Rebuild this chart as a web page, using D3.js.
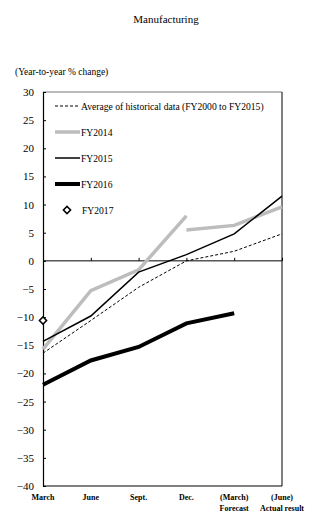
<!DOCTYPE html>
<html><head><meta charset="utf-8">
<script src="https://cdn.jsdelivr.net/npm/d3@7"></script>
<style>body{margin:0;background:#fff}svg text{font-family:"Liberation Serif","DejaVu Serif",serif !important}</style>
</head><body><svg id="c" width="327" height="530"></svg>
<script>
const categories = ["March","June","Sept.","Dec.","(March)","(June)"];
const categorySub = ["","","","","Forecast","Actual result"];
const yTicks = [30,25,20,15,10,5,0,-5,-10,-15,-20,-25,-30,-35,-40];
const avgHist = [-16.4,-10.6,-4.7,0.0,1.7,4.8];
const fy2014a = [-15.7,-5.3,-1.6,8.0,null,null];
const fy2014b = [null,null,null,5.5,6.3,9.6];
const fy2015 = [-14.3,-9.8,-2.0,1.1,4.8,11.5];
const fy2016 = [-22.0,-17.7,-15.3,-11.1,-9.3,null];
const fy2017 = [-10.6,null,null,null,null,null];

const svg = d3.select("#c");
const L=43,R=282,T=92,B=486;
const x = d3.scalePoint().domain(categories).range([L,R]);
const y = d3.scaleLinear().domain([-40,30]).range([B,T]);

svg.append("text").attr("x",166).attr("y",23).attr("text-anchor","middle").attr("font-size",11).text("Manufacturing");
svg.append("text").attr("x",15).attr("y",75).attr("font-size",9.5).text("(Year-to-year % change)");

svg.append("line").attr("x1",L).attr("x2",R).attr("y1",T).attr("y2",T).attr("stroke","#777").attr("stroke-width",1);
svg.append("line").attr("x1",R).attr("x2",R).attr("y1",T).attr("y2",B).attr("stroke","#000").attr("stroke-width",1);

const yAxis = d3.axisLeft(y).tickValues(yTicks).tickSize(-3).tickPadding(9).tickFormat(d3.format("d"));
const ga = svg.append("g").attr("transform",`translate(${L},0)`).call(yAxis);
ga.select(".domain").attr("stroke","#000").attr("stroke-width",1.2);
ga.selectAll("text").attr("font-size",11).attr("fill","#000");

svg.append("line").attr("x1",L).attr("x2",R).attr("y1",B).attr("y2",B).attr("stroke","#000").attr("stroke-width",1.2);
const xAxis = d3.axisTop(x).tickSize(3).tickFormat("");
const gz = svg.append("g").attr("transform",`translate(0,${y(0)})`).call(xAxis);
gz.select(".domain").attr("d",`M${L},0H${R}`).attr("stroke","#000");
gz.selectAll(".tick line").attr("stroke","#000");

categories.forEach((c,i)=>{
  svg.append("text").attr("x",x(c)).attr("y",500).attr("text-anchor","middle").attr("font-size",8).attr("font-weight","bold").text(c);
  if(categorySub[i]) svg.append("text").attr("x",x(c)).attr("y",511).attr("text-anchor","middle").attr("font-size",8).attr("font-weight","bold").text(categorySub[i]);
});

const line = d3.line().defined(d=>d.v!==null).x(d=>x(d.c)).y(d=>y(d.v));
function draw(vals, stroke, w, dash){
  const data = vals.map((v,i)=>({c:categories[i],v}));
  const p = svg.append("path").datum(data).attr("d",line).attr("fill","none").attr("stroke",stroke).attr("stroke-width",w);
  if(dash) p.attr("stroke-dasharray",dash);
}
draw(fy2014a,"#bdbdbd",3.5);
draw(fy2014b,"#bdbdbd",3.5);
draw(avgHist,"#000",1,"3,2");
draw(fy2015,"#000",1.5);
draw(fy2016,"#000",4);

const sym = d3.symbol().type(d3.symbolSquare).size(26);
function diamond(cx,cy){
  svg.append("path").attr("d",sym()).attr("transform",`translate(${cx},${cy}) rotate(45)`).attr("fill","#fff").attr("stroke","#000").attr("stroke-width",1.5);
}
fy2017.forEach((v,i)=>{ if(v!==null) diamond(x(categories[i]),y(v)); });

const legend = [
  {label:"Average of historical data (FY2000 to FY2015)", stroke:"#000", w:1, dash:"3,2"},
  {label:"FY2014", stroke:"#bdbdbd", w:3.5},
  {label:"FY2015", stroke:"#000", w:1.5},
  {label:"FY2016", stroke:"#000", w:4},
  {label:"FY2017", marker:true}
];
legend.forEach((d,i)=>{
  const yy = 106 + i*26;
  if(d.marker){
    diamond(67,yy);
  } else {
    const l = svg.append("line").attr("x1",55).attr("x2",80).attr("y1",yy).attr("y2",yy).attr("stroke",d.stroke).attr("stroke-width",d.w);
    if(d.dash) l.attr("stroke-dasharray",d.dash);
  }
  svg.append("text").attr("x",i===4?82:81).attr("y",yy+3.5).attr("font-size",9.6).text(d.label);
});
</script></body></html>
